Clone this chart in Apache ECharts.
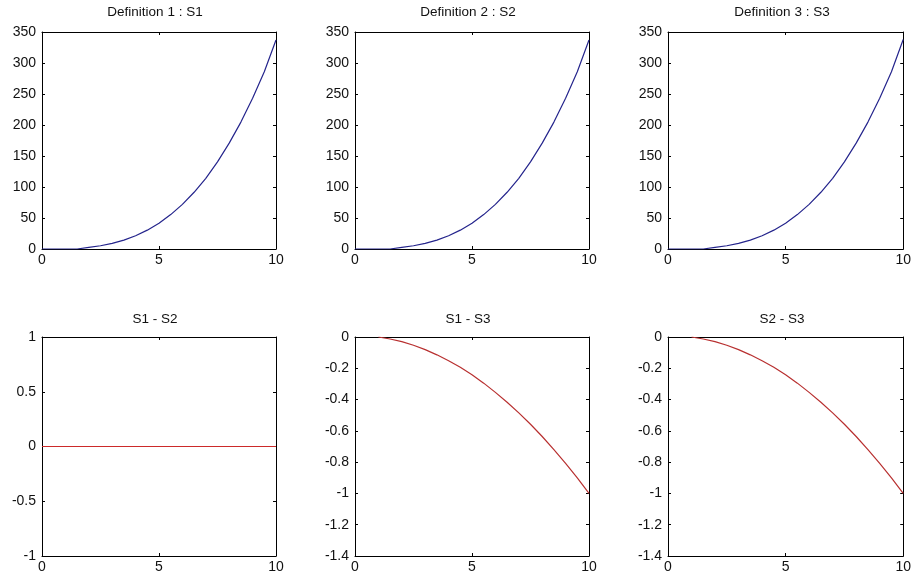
<!DOCTYPE html>
<html>
<head>
    <meta charset="utf-8">
    <title>S1 / S2 / S3</title>
    <script src="https://cdn.jsdelivr.net/npm/echarts@6/dist/echarts.min.js"></script>
    <style>
        html, body { margin: 0; padding: 0; background: #fff; }
        #chart-container { width: 914px; height: 582px; }
    </style>
</head>
<body>
    <div id="chart-container"></div>
    <script>
        // data
        const xTop = [0, 0.5, 1, 1.5, 2, 2.5, 3, 3.5, 4, 4.5, 5, 5.5, 6, 6.5, 7, 7.5, 8, 8.5, 9, 9.5, 10];
        const s1 = [0, 0, 0, 0, 2.7, 5.2, 9, 14.3, 21.3, 30.4, 41.7, 55.5, 72, 91.5, 114, 140.6, 170.7, 204.7, 243, 285.8, 337];
        const s2 = [0, 0, 0, 0, 2.7, 5.2, 9, 14.3, 21.3, 30.4, 41.7, 55.5, 72, 91.5, 114, 140.6, 170.7, 204.7, 243, 285.8, 337];
        const s3 = [0, 0, 0, 0, 2.7, 5.2, 9, 14.3, 21.3, 30.4, 41.7, 55.5, 72, 91.5, 114, 140.6, 170.7, 204.7, 243, 285.8, 338];

        const xFlat = [0, 10];
        const d12 = [0, 0];

        const xDiff = [1, 1.5, 2, 2.5, 3, 3.5, 4, 4.5, 5, 5.5, 6, 6.5, 7, 7.5, 8, 8.5, 9, 9.5, 10];
        const d13 = [0, -0.013, -0.03, -0.053, -0.081, -0.114, -0.152, -0.194, -0.242, -0.295, -0.354, -0.417, -0.485, -0.558, -0.636, -0.72, -0.808, -0.9, -1.0];
        const d23 = [0, -0.013, -0.03, -0.053, -0.081, -0.114, -0.152, -0.194, -0.242, -0.295, -0.354, -0.417, -0.485, -0.558, -0.636, -0.72, -0.808, -0.9, -1.0];

        const titles = ['Definition 1 : S1', 'Definition 2 : S2', 'Definition 3 : S3', 'S1 - S2', 'S1 - S3', 'S2 - S3'];

        // panels: x data, y data, y range, colour
        const panels = [
            { x: xTop, y: s1, min: 0, max: 350, step: 50, color: '#24248c' },
            { x: xTop, y: s2, min: 0, max: 350, step: 50, color: '#24248c' },
            { x: xTop, y: s3, min: 0, max: 350, step: 50, color: '#24248c' },
            { x: xFlat, y: d12, min: -1, max: 1, step: 0.5, color: '#cc2a2a' },
            { x: xDiff, y: d13, min: -1.4, max: 0, step: 0.2, color: '#b83030' },
            { x: xDiff, y: d23, min: -1.4, max: 0, step: 0.2, color: '#b83030' }
        ];

        const lefts = [42, 355, 668];
        const widths = [234, 234, 236];
        const tops = [32, 337];
        const heights = [217, 219];

        const font = { fontFamily: 'Liberation Sans', fontSize: 14, color: '#111' };
        const lineStyle = { color: '#000', width: 1 };

        const grid = [], xAxis = [], yAxis = [], series = [], title = [];

        panels.forEach((p, i) => {
            const col = i % 3, row = Math.floor(i / 3);
            grid.push({
                left: lefts[col], top: tops[row], width: widths[col], height: heights[row],
                show: false
            });
            title.push({
                text: titles[i],
                left: lefts[col] + widths[col] / 2 - 4,
                top: row === 0 ? 5 : 312,
                textAlign: 'center',
                padding: 0,
                textStyle: { ...font, fontSize: 13.5, fontWeight: 'normal' }
            });
            // bottom / left axes with labels, top / right mirrored ticks
            ['bottom', 'top'].forEach((pos, k) => {
                xAxis.push({
                    type: 'value', gridIndex: i, position: pos,
                    min: 0, max: 10, interval: 5,
                    axisLine: { show: true, onZero: false, lineStyle },
                    axisTick: { show: true, inside: true, length: 3, lineStyle },
                    axisLabel: { show: k === 0, margin: 4, ...font },
                    splitLine: { show: false }
                });
            });
            ['left', 'right'].forEach((pos, k) => {
                yAxis.push({
                    type: 'value', gridIndex: i, position: pos,
                    min: p.min, max: p.max, interval: p.step,
                    axisLine: { show: true, onZero: false, lineStyle },
                    axisTick: { show: true, inside: true, length: 3, lineStyle },
                    axisLabel: { show: k === 0, margin: 6, ...font },
                    splitLine: { show: false }
                });
            });
            series.push({
                type: 'line',
                xAxisIndex: i * 2, yAxisIndex: i * 2,
                data: p.x.map((v, j) => [v, p.y[j]]),
                showSymbol: false,
                lineStyle: { color: p.color, width: 1.2 },
                z: 5,
                silent: true
            });
        });

        const myChart = echarts.init(document.getElementById('chart-container'));
        myChart.setOption({
            animation: false,
            backgroundColor: '#fff',
            title, grid, xAxis, yAxis, series
        });
    </script>
</body>
</html>
